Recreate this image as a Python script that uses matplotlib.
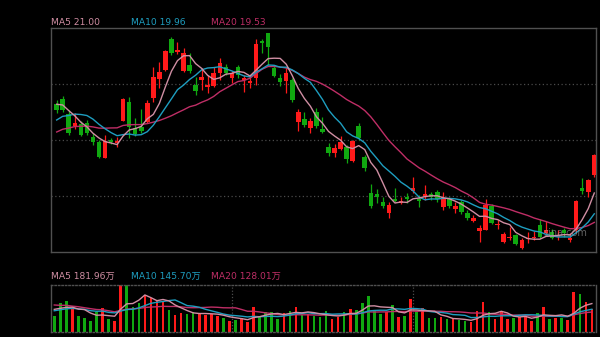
import numpy as np
import pandas as pd
import matplotlib
matplotlib.use('Agg')
import matplotlib.pyplot as plt

plt.rcParams['font.family'] = ['DejaVu Sans', 'Noto Sans CJK SC']

# daily k-line, 90 sessions (price in yuan)
opens = [25.45, 25.70, 24.95, 24.35, 24.45, 24.50, 23.80, 23.55, 22.75, 23.65,
         23.50, 24.60, 25.55, 24.25, 24.30, 24.55, 25.75, 26.70, 27.15, 28.70,
         28.05, 27.10, 27.40, 26.40, 26.65, 26.30, 26.35, 27.00, 27.30, 26.75,
         27.30, 26.65, 26.50, 26.75, 28.60, 29.00, 27.25, 26.75, 26.60, 26.65,
         24.55, 24.70, 24.25, 25.05, 24.20, 23.30, 23.00, 23.20, 23.30, 22.60,
         24.35, 22.80, 21.00, 20.95, 20.55, 20.00, 20.70, 20.50, 20.80, 21.10,
         20.70, 20.85, 20.95, 21.05, 20.30, 20.70, 20.20, 20.55, 20.00, 19.60,
         19.10, 19.15, 20.35, 19.40, 18.55, 18.75, 18.90, 18.25, 18.70, 18.75,
         19.40, 19.00, 19.05, 18.80, 19.15, 18.65, 19.15, 21.25, 21.05, 21.90]
highs = [25.65, 25.85, 25.15, 25.00, 24.60, 24.65, 24.00, 23.65, 23.90, 23.75,
         23.80, 25.75, 25.80, 24.75, 25.20, 25.65, 27.30, 27.55, 28.15, 28.80,
         28.55, 28.25, 28.00, 26.80, 27.25, 26.90, 27.30, 27.75, 27.45, 27.10,
         27.40, 26.90, 26.90, 28.70, 28.70, 29.00, 27.35, 26.95, 27.25, 26.75,
         25.20, 25.05, 24.75, 25.25, 24.80, 23.50, 23.45, 23.85, 23.40, 23.65,
         24.50, 22.90, 21.45, 21.20, 20.80, 20.55, 21.25, 20.80, 21.00, 21.80,
         20.90, 21.40, 21.05, 21.15, 21.05, 20.80, 20.55, 20.65, 20.15, 19.90,
         19.40, 20.70, 20.45, 19.65, 19.05, 19.30, 18.95, 18.75, 19.05, 19.10,
         19.70, 19.60, 19.20, 19.15, 19.25, 19.00, 20.65, 21.75, 21.70, 22.95]
lows = [25.00, 25.05, 23.90, 24.20, 23.85, 23.90, 23.40, 22.75, 22.75, 23.45,
        23.30, 24.60, 23.75, 23.85, 24.00, 24.50, 25.55, 26.25, 27.10, 27.90,
        27.95, 27.05, 27.00, 25.90, 26.15, 26.00, 26.30, 26.65, 26.90, 26.50,
        26.75, 26.05, 26.25, 26.40, 28.00, 27.40, 26.80, 26.35, 26.00, 25.55,
        24.10, 24.30, 24.00, 24.25, 24.00, 22.85, 22.80, 23.15, 22.50, 22.55,
        23.65, 22.10, 20.25, 20.50, 20.25, 19.75, 20.55, 20.45, 20.50, 21.00,
        20.30, 20.65, 20.65, 20.55, 20.15, 20.25, 20.00, 19.95, 19.65, 19.55,
        18.55, 19.15, 19.45, 19.20, 18.50, 18.65, 18.40, 18.20, 18.50, 18.65,
        18.75, 18.90, 18.70, 18.65, 18.80, 18.55, 19.00, 20.95, 20.80, 21.80]
closes = [25.15, 25.15, 24.00, 24.50, 23.90, 24.00, 23.55, 22.80, 23.60, 23.55,
          23.60, 25.70, 24.30, 23.95, 24.10, 25.50, 26.80, 27.05, 28.10, 28.00,
          28.15, 28.00, 27.10, 26.10, 26.80, 26.40, 27.00, 27.50, 27.00, 27.00,
          26.90, 26.75, 26.60, 28.45, 28.50, 28.30, 26.85, 26.55, 27.00, 25.65,
          25.05, 24.40, 24.60, 24.35, 24.05, 23.00, 23.25, 23.55, 22.70, 23.60,
          23.75, 22.25, 20.35, 20.80, 20.35, 20.40, 20.60, 20.60, 20.70, 21.25,
          20.60, 20.95, 20.80, 20.70, 20.75, 20.35, 20.35, 20.05, 19.75, 19.75,
          19.25, 20.40, 19.50, 19.45, 18.95, 18.80, 18.45, 18.65, 18.75, 18.80,
          18.80, 19.15, 18.75, 18.90, 19.00, 18.75, 20.60, 21.10, 21.65, 22.90]
# turnover, 万手
volumes = [102, 184, 200, 145, 102, 88, 72, 130, 152, 81,
           70, 301, 298, 162, 188, 237, 216, 200, 200, 141,
           109, 124, 113, 126, 120, 109, 115, 102, 92, 70,
           77, 88, 66, 162, 98, 126, 126, 83, 124, 134,
           162, 109, 113, 102, 96, 134, 83, 98, 130, 147,
           141, 184, 230, 136, 113, 130, 173, 94, 102, 209,
           126, 152, 88, 88, 94, 81, 81, 77, 70, 66,
           134, 190, 126, 83, 130, 83, 88, 98, 102, 69.2,
           120, 160.2, 83, 92, 92, 77, 254, 243, 190, 145.8]
# earlier sessions, only used to warm up the moving averages
prev_closes = [22.4, 22.8, 23.0, 23.6, 23.9, 24.3, 24.0, 23.7, 23.3, 23.5,
               23.3, 23.6, 23.8, 24.1, 24.5, 25.35, 25.4, 25.8, 25.5]
prev_volumes = [230, 195, 250, 180, 215, 190, 240, 185, 210, 205,
                120, 140, 115, 135, 125, 150, 170, 140, 163]
month_marks = [29.05, 59.05]

up_color = '#ff1a1a'
down_color = '#10a810'
ma_colors = {5: '#d08ea3', 10: '#1e9ec0', 20: '#bf2e66'}
frame_color = '#505050'
grid_color = '#4a4a4a'

n = len(closes)
skip = len(prev_closes)
close_all = pd.Series(prev_closes + closes)
vol_all = pd.Series(prev_volumes + volumes)
price_ma = {w: close_all.rolling(w).mean().values[skip:] for w in (5, 10, 20)}
vol_ma = {w: vol_all.rolling(w).mean().values[skip:] for w in (5, 10, 20)}

x = np.arange(n)
o = np.array(opens)
c = np.array(closes)
h = np.array(highs)
l = np.array(lows)
colors = np.where(c >= o, up_color, down_color)

W, H = 600, 337
fig = plt.figure(figsize=(W / 100, H / 100), dpi=100, facecolor='black')
ax = fig.add_axes([51 / W, 1 - 252 / H, 544.5 / W, 224.3 / H])
axv = fig.add_axes([51 / W, 1 - 332 / H, 544.5 / W, 47 / H])

for a in (ax, axv):
    a.set_facecolor('black')
    a.set_xticks([])
    a.set_yticks([])
    a.set_xlim(-0.94, 89.2)
    for s in a.spines.values():
        s.set_color(frame_color)
        s.set_linewidth(1.0)

# price panel
ymin, ymax = 18.05, 29.265
ax.set_ylim(ymin, ymax)
step = (ymax - ymin) / 4
for k in (1, 2, 3):
    ax.axhline(ymin + k * step, color=grid_color, lw=0.9, ls=(0, (1, 2)), zorder=0)

ax.vlines(x, l, h, colors=colors, lw=0.9, zorder=2)
ax.bar(x, np.maximum(np.abs(c - o), 0.04), bottom=np.minimum(o, c), width=0.75,
       color=colors, linewidth=0, zorder=3)
for w in (20, 10, 5):
    ax.plot(x, price_ma[w], color=ma_colors[w], lw=1.0, zorder=4)

# volume panel
axv.set_ylim(0, max(volumes))
axv.spines['top'].set_linestyle((0, (1, 1.5)))
axv.spines['bottom'].set_linestyle((0, (1, 1.5)))
for m in month_marks:
    axv.axvline(m, color=grid_color, lw=0.9, ls=(0, (1, 1.5)), zorder=0)
axv.bar(x - 0.4, volumes, width=0.42, color=colors, linewidth=0, zorder=2)
for w in (20, 10, 5):
    axv.plot(x - 0.4, vol_ma[w], color=ma_colors[w], lw=1.0, zorder=3)

# legends
fs = 6.6
for xp, w in ((51, 5), (131, 10), (211, 20)):
    fig.text(xp / W, 1 - 22.5 / H, f'MA{w} {price_ma[w][-1]:.2f}',
             color=ma_colors[w], fontsize=fs, va='center', ha='left')
    fig.text(xp / W, 1 - 276 / H, f'MA{w} {vol_ma[w][-1]:.2f}万',
             color=ma_colors[w], fontsize=fs, va='center', ha='left')

fig.text(543 / W, 1 - 233 / H, 'sina.com', color='#a0a0a0', alpha=0.6,
         fontsize=7, va='center', ha='left')

fig.savefig('out.png', dpi=100, facecolor='black')
